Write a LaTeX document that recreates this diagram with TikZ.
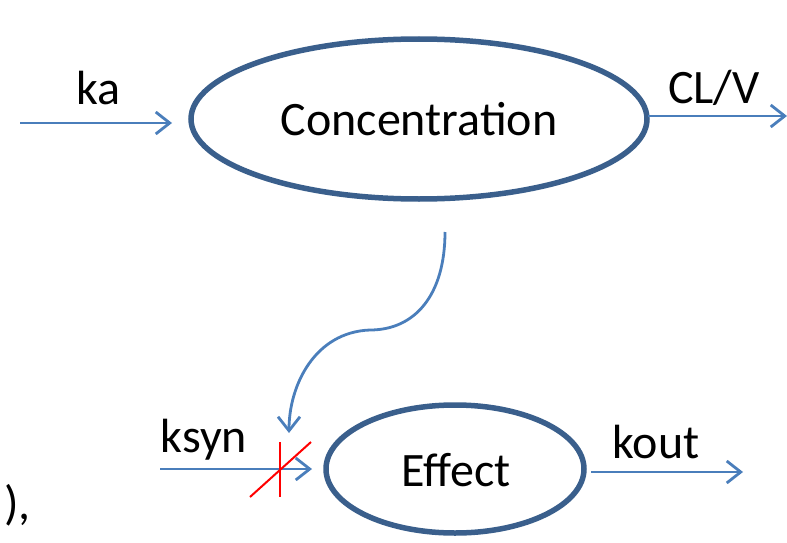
\documentclass[tikz,border=0pt]{standalone}
\usepackage{fontspec}
\setmainfont{Carlito}
\usetikzlibrary{shapes.geometric,arrows.meta}
\definecolor{ellblue}{HTML}{3A5F8C}
\definecolor{arrblue}{HTML}{4A7EBB}
\tikzset{
  ell/.style={draw=ellblue,line width=5.5pt,ellipse,inner sep=0pt},
  flow/.style={draw=arrblue,line width=2.8pt,-{Straight Barb[length=14pt,width=22pt,line width=2.8pt]}},
  lbl/.style={font=\fontsize{48}{52}\selectfont,inner sep=0pt}
}
\begin{document}
\begin{tikzpicture}[x=1pt,y=-1pt]
\useasboundingbox (0,0) rectangle (787,543);
\node[ell,minimum width=456pt,minimum height=160pt] (conc) at (419,119) {};
\node[lbl] at (419,119) {Concentration};
\node[ell,minimum width=258pt,minimum height=128pt] (eff) at (455,469) {};
\node[lbl] at (456,470) {Effect};
\coordinate (kaS) at (20,123);
\coordinate (kaE) at (172,123);
\draw[flow] (kaS) -- (kaE);
\node[lbl] (ka) at (98,88) {ka};
\coordinate (clS) at (648,116);
\coordinate (clE) at (787,116);
\draw[flow] (clS) -- (clE);
\node[lbl] (clv) at (714,88) {CL/V};
\coordinate (ksS) at (160,469);
\coordinate (ksE) at (312,469);
\draw[flow] (ksS) -- (ksE);
\node[lbl] (ksyn) at (204,440) {ksyn};
\coordinate (koS) at (591,472);
\coordinate (koE) at (743,472);
\draw[flow] (koS) -- (koE);
\node[lbl] (kout) at (656,442) {kout};
\coordinate (cS) at (445,232);
\coordinate (cM) at (370,330);
\coordinate (cE) at (289,433);
\draw[flow] (cS) .. controls (445,295) and (415,330) .. (cM) .. controls (315,332) and (289,385) .. (cE);
\draw[red,line width=2pt] (280,442) -- (280,497);
\draw[red,line width=2pt] (250,497) -- (311,442);
\node[lbl,anchor=west] (par) at (4,505) {),};
\end{tikzpicture}
\end{document}
